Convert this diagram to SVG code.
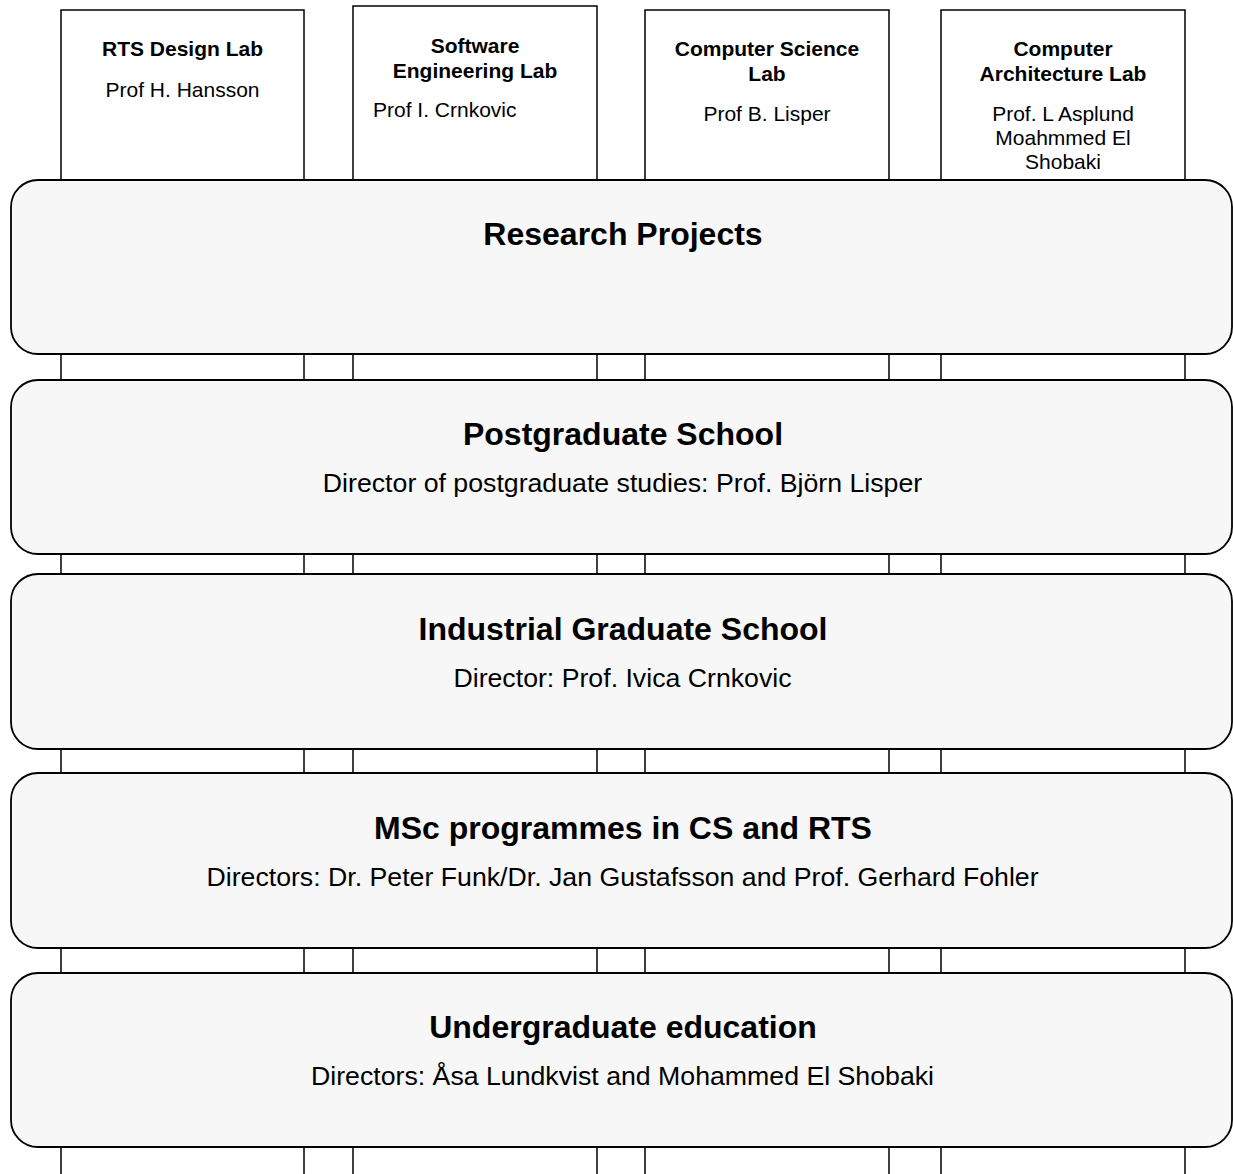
<svg xmlns="http://www.w3.org/2000/svg" width="1233" height="1174" viewBox="0 0 1233 1174">
<style>
.lab{fill:#ffffff;stroke:#000;stroke-width:1.5}
.band{fill:#f7f7f7;stroke:#000;stroke-width:1.8}
text{font-family:"Liberation Sans",Arial,Helvetica,sans-serif;fill:#000}
.lt{font-size:21px;font-weight:bold;text-anchor:middle}
.lp{font-size:21px;text-anchor:middle}
.bt{font-size:32px;font-weight:bold;text-anchor:middle}
.bs{font-size:26.7px;text-anchor:middle}
</style>
<rect x="0" y="0" width="1233" height="1174" fill="#ffffff"/>
<g id="lab-rts">
<rect class="lab" x="61" y="10" width="243" height="1180"/>
<text class="lt" x="182.5" y="56">RTS Design Lab</text>
<text class="lp" x="182.5" y="97">Prof H. Hansson</text>
</g>
<g id="lab-se">
<rect class="lab" x="353" y="6" width="244" height="1184"/>
<text class="lt" x="475" y="53">Software</text>
<text class="lt" x="475" y="78">Engineering Lab</text>
<text class="lp" x="373" y="117" style="text-anchor:start">Prof I. Crnkovic</text>
</g>
<g id="lab-cs">
<rect class="lab" x="645" y="10" width="244" height="1180"/>
<text class="lt" x="767" y="56">Computer Science</text>
<text class="lt" x="767" y="81">Lab</text>
<text class="lp" x="767" y="121">Prof B. Lisper</text>
</g>
<g id="lab-ca">
<rect class="lab" x="941" y="10" width="244" height="1180"/>
<text class="lt" x="1063" y="56">Computer</text>
<text class="lt" x="1063" y="81">Architecture Lab</text>
<text class="lp" x="1063" y="121">Prof. L Asplund</text>
<text class="lp" x="1063" y="145">Moahmmed El</text>
<text class="lp" x="1063" y="169">Shobaki</text>
</g>
<g id="connectors"></g>
<g id="research-projects">
<rect class="band" x="11" y="180" width="1221" height="174" rx="27" ry="27"/>
<text class="bt" x="623" y="245">Research Projects</text>
</g>
<g id="postgraduate-school">
<rect class="band" x="11" y="380" width="1221" height="174" rx="27" ry="27"/>
<text class="bt" x="623" y="445">Postgraduate School</text>
<text class="bs" x="622.5" y="492">Director of postgraduate studies: Prof. Björn Lisper</text>
</g>
<g id="industrial-graduate-school">
<rect class="band" x="11" y="574" width="1221" height="175" rx="27" ry="27"/>
<text class="bt" x="623" y="640">Industrial Graduate School</text>
<text class="bs" x="622.5" y="687">Director: Prof. Ivica Crnkovic</text>
</g>
<g id="msc-programmes">
<rect class="band" x="11" y="773" width="1221" height="175" rx="27" ry="27"/>
<text class="bt" x="623" y="839">MSc programmes in CS and RTS</text>
<text class="bs" x="622.5" y="886">Directors: Dr. Peter Funk/Dr. Jan Gustafsson and Prof. Gerhard Fohler</text>
</g>
<g id="undergraduate-education">
<rect class="band" x="11" y="973" width="1221" height="174" rx="27" ry="27"/>
<text class="bt" x="623" y="1038">Undergraduate education</text>
<text class="bs" x="622.5" y="1085">Directors: Åsa Lundkvist and Mohammed El Shobaki</text>
</g>
</svg>
